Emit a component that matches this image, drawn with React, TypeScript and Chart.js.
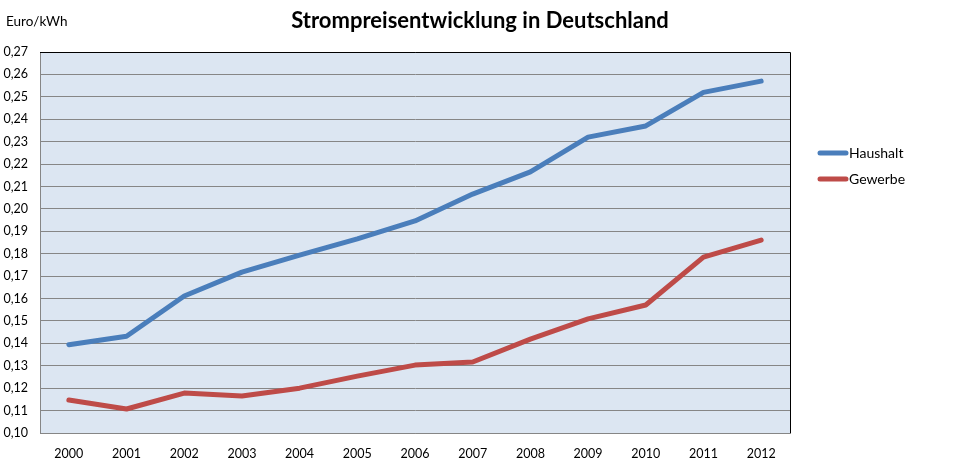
import React, { useEffect, useRef } from "react";
import { Chart, registerables } from "chart.js";

Chart.register(...registerables);

const years = ["2000","2001","2002","2003","2004","2005","2006","2007","2008","2009","2010","2011","2012"];
const haushalt = [0.1394,0.1432,0.1611,0.1718,0.1794,0.1866,0.1946,0.2066,0.2165,0.2320,0.2370,0.2520,0.2570];
const gewerbe = [0.1147,0.1107,0.1178,0.1165,0.1200,0.1254,0.1303,0.1317,0.1419,0.1509,0.1571,0.1785,0.1861];
const seriesNames = ["Haushalt", "Gewerbe"];
const seriesColors = ["#4a7ebb", "#be4b48"];
const chartTitle = "Strompreisentwicklung in Deutschland";
const unitLabel = "Euro/kWh";

const FONT = "Lato, 'Open Sans', sans-serif";

const decor = {
  id: "decor",
  beforeDraw(chart: any) {
    const { ctx, chartArea: a } = chart;
    ctx.save();
    ctx.fillStyle = "#dce6f2";
    ctx.fillRect(a.left, a.top, a.right - a.left, a.bottom - a.top);
    ctx.restore();
  },
  afterDraw(chart: any) {
    const { ctx, chartArea: a } = chart;
    ctx.save();
    ctx.strokeStyle = "#000";
    ctx.lineWidth = 1;
    ctx.beginPath();
    ctx.moveTo(a.left, a.top + 0.5);
    ctx.lineTo(a.right + 0.5, a.top + 0.5);
    ctx.lineTo(a.right + 0.5, a.bottom);
    ctx.stroke();
    ctx.fillStyle = "#000";
    ctx.textBaseline = "middle";
    ctx.textAlign = "center";
    ctx.font = `bold 22px ${FONT}`;
    ctx.fillText(chartTitle, 480, 21);
    ctx.textAlign = "left";
    ctx.font = `13.5px ${FONT}`;
    ctx.fillText(unitLabel, 6, 22);
    ctx.font = `14px ${FONT}`;
    seriesNames.forEach((n, i) => {
      const y = 153 + i * 26;
      ctx.strokeStyle = seriesColors[i];
      ctx.lineWidth = 5;
      ctx.lineCap = "round";
      ctx.beginPath();
      ctx.moveTo(820, y);
      ctx.lineTo(846, y);
      ctx.stroke();
      ctx.fillStyle = "#000";
      ctx.fillText(n, 849, y);
    });
    ctx.restore();
  },
};

export default function App() {
  const ref = useRef<HTMLCanvasElement>(null);
  useEffect(() => {
    if (!ref.current) return;
    const chart = new Chart(ref.current, {
      type: "line",
      data: {
        labels: years,
        datasets: [
          { label: seriesNames[0], data: haushalt, borderColor: seriesColors[0], borderWidth: 5, pointRadius: 0, tension: 0, borderCapStyle: "round", borderJoinStyle: "round" },
          { label: seriesNames[1], data: gewerbe, borderColor: seriesColors[1], borderWidth: 5, pointRadius: 0, tension: 0, borderCapStyle: "round", borderJoinStyle: "round" },
        ],
      },
      options: {
        animation: false,
        responsive: false,
        maintainAspectRatio: false,
        layout: { padding: { top: 52, right: 170, left: 0, bottom: 0 } },
        plugins: {
          legend: { display: false },
          tooltip: { enabled: false },
          title: { display: false },
        },
        scales: {
          x: {
            offset: true,
            grid: { display: false, drawTicks: false },
            border: { display: true, color: "#868686", width: 1 },
            ticks: { color: "#000", font: { family: FONT, size: 12.5 }, padding: 13, maxRotation: 0 },
            afterFit: (s: any) => { s.height = 41; },
          },
          y: {
            min: 0.10,
            max: 0.27,
            grid: { color: "#868686", lineWidth: 1, drawTicks: false },
            border: { display: true, color: "#868686", width: 1 },
            ticks: {
              stepSize: 0.01,
              color: "#000",
              padding: 12,
              font: { family: FONT, size: 12.5 },
              callback: (v: any) => Number(v).toFixed(2).replace(".", ","),
            },
            afterFit: (s: any) => { s.width = 40; },
          },
        },
      },
      plugins: [decor],
    });
    return () => chart.destroy();
  }, []);
  return (
    <div style={{ position: "fixed", left: 0, top: 0, width: 960, height: 474, background: "#fff" }}>
      <canvas ref={ref} width={960} height={474} style={{ width: 960, height: 474 }} />
    </div>
  );
}
